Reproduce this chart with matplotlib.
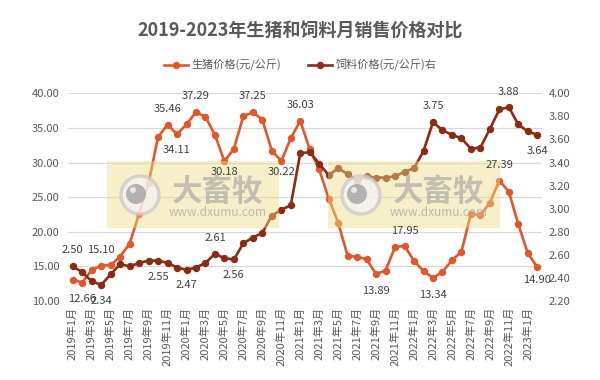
import matplotlib
matplotlib.use("Agg")
import matplotlib.pyplot as plt
import matplotlib.transforms as mtransforms
from matplotlib.patches import Rectangle, Circle
from matplotlib.ticker import FormatStrFormatter

plt.rcParams['font.family'] = ['Noto Sans CJK SC', 'DejaVu Sans']

# 月份 2019年1月 - 2023年2月
months = []
for y in range(2019, 2024):
    for m in range(1, 13):
        if y == 2023 and m > 2:
            break
        months.append("%d年%d月" % (y, m))

pig = [13.10, 12.66, 14.50, 15.10, 15.20, 16.40, 18.30, 22.60, 27.00, 33.70,
       35.46, 34.11, 35.50, 37.29, 36.60, 34.00, 30.18, 32.00, 36.70, 37.25,
       36.20, 31.70, 30.22, 33.50, 36.03, 31.90, 29.00, 24.80, 21.30, 16.50,
       16.40, 16.00, 13.89, 14.40, 17.80, 17.95, 15.80, 14.30, 13.34, 14.20,
       15.90, 17.10, 22.60, 22.40, 24.20, 27.39, 25.80, 21.10, 16.90, 14.90]

feed = [2.50, 2.45, 2.37, 2.34, 2.43, 2.52, 2.50, 2.53, 2.55, 2.55,
        2.53, 2.49, 2.47, 2.49, 2.53, 2.61, 2.57, 2.56, 2.70, 2.75,
        2.79, 2.94, 2.99, 3.03, 3.48, 3.49, 3.39, 3.29, 3.35, 3.30,
        3.24, 3.28, 3.27, 3.27, 3.28, 3.32, 3.35, 3.50, 3.75, 3.68,
        3.64, 3.61, 3.52, 3.53, 3.69, 3.86, 3.88, 3.73, 3.67, 3.64]

# 标注的点: 序号 -> 上(+)/下(-)偏移, 单位像素
pig_labels = {1: -16, 3: 16, 10: 16, 11: -16, 13: 16, 16: -10.5, 19: 16,
              22: -10.5, 24: 16, 32: -17, 35: 15, 38: -17, 45: 16, 49: -12.5}
feed_labels = {0: 16, 3: -16, 9: -16, 12: -15, 15: 16, 17: -16,
               38: 16, 46: 15, 49: -16}

pig_color = '#E2572A'
feed_color = '#8A2C14'
txt_color = '#595959'

fig = plt.figure(figsize=(6, 3.8), dpi=100)
ax = fig.add_axes([68/600, 1-301/380, 474/600, 207.7/380])
ax2 = ax.twinx()

x = list(range(len(months)))
ax.plot(x, pig, color=pig_color, lw=1.9, marker='o', ms=4.3, label='生猪价格(元/公斤)', zorder=3)
ax2.plot(x, feed, color=feed_color, lw=1.9, marker='o', ms=4.3, label='饲料价格(元/公斤)右', zorder=2)

ax.set_xlim(-0.5, len(months) - 0.5)
ax.set_ylim(10, 40)
ax.set_yticks([10, 15, 20, 25, 30, 35, 40])
ax2.set_ylim(2.2, 4.0)
ax2.set_yticks([2.2 + 0.2*i for i in range(10)])
ax.yaxis.set_major_formatter(FormatStrFormatter('%.2f'))
ax2.yaxis.set_major_formatter(FormatStrFormatter('%.2f'))
ax.set_xticks(x[::2])
ax.set_xticklabels(months[::2], rotation=90)

ax.grid(axis='y', color='#D9D9D9', lw=0.9)
ax.set_axisbelow(True)
for a in (ax, ax2):
    for s in a.spines.values():
        s.set_visible(False)
    a.tick_params(length=0, labelsize=8, labelcolor=txt_color)
ax.tick_params(axis='x', pad=4)
ax.tick_params(axis='y', pad=6)
ax2.tick_params(axis='y', pad=5)

# 数据标签 (偏移: 像素 -> 点)
for i, d in pig_labels.items():
    ax2.annotate("%.2f" % pig[i], (x[i], pig[i]), xycoords=ax.transData,
                 xytext=(0, d*0.72), textcoords='offset points',
                 ha='center', va='center', fontsize=8, color='#404040', zorder=6,
                 annotation_clip=False)
for i, d in feed_labels.items():
    ax2.annotate("%.2f" % feed[i], (x[i], feed[i]),
                 xytext=(0, d*0.72), textcoords='offset points',
                 ha='center', va='center', fontsize=8, color='#404040', zorder=6,
                 annotation_clip=False)

# 水印 (像素坐标, 原点左上)
px = mtransforms.Affine2D().scale(1/100.0, -1/100.0).translate(0, 3.8) + fig.dpi_scale_trans
for x0 in (107, 328):
    ax2.add_patch(Rectangle((x0, 161), 172, 67, transform=px, facecolor='#EEDC86',
                            edgecolor='none', alpha=0.45, zorder=4, clip_on=False))
    ax2.add_patch(Circle((x0+33, 195), 19, transform=px, facecolor='#F4F4F4',
                         edgecolor='#C9C9C9', lw=2.5, alpha=0.75, zorder=4.1, clip_on=False))
    ax2.add_patch(Circle((x0+29, 194), 10, transform=px, facecolor='#A3A3A3',
                         edgecolor='none', alpha=0.8, zorder=4.2, clip_on=False))
    ax2.add_patch(Circle((x0+26, 190), 3, transform=px, facecolor='#EEEEEE',
                         edgecolor='none', alpha=0.9, zorder=4.3, clip_on=False))
    ax2.text(x0+111, 192, '大畜牧', transform=px, fontsize=22, fontweight='bold',
             color='#AAAAAA', alpha=0.7, ha='center', va='center', zorder=4.4)
    ax2.text(x0+111, 213, 'www.dxumu.com', transform=px, fontsize=8.5,
             color='#ABABAB', alpha=0.8, ha='center', va='center', zorder=4.4)

fig.text(0.5, 1-31/380, '2019-2023年生猪和饲料月销售价格对比', ha='center', va='center',
         fontsize=13, fontweight='bold', color=txt_color)

h1, l1 = ax.get_legend_handles_labels()
h2, l2 = ax2.get_legend_handles_labels()
leg = fig.legend(h1 + h2, l1 + l2, loc='center', bbox_to_anchor=(0.5, 1-65/380), ncol=2,
                 frameon=False, fontsize=8, handlelength=2.2, columnspacing=2.4,
                 handletextpad=0.3)
for t in leg.get_texts():
    t.set_color(txt_color)

fig.savefig('out.png', dpi=100)
